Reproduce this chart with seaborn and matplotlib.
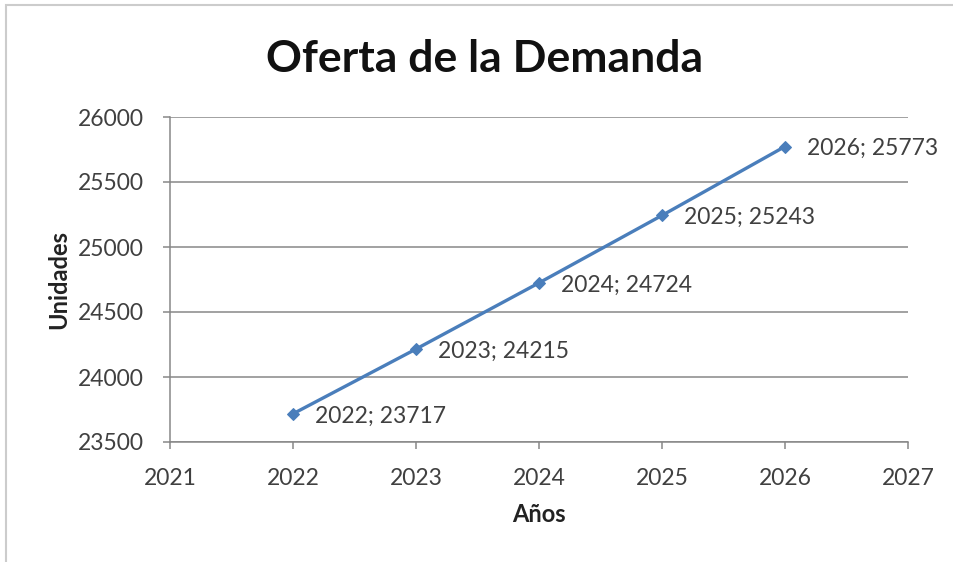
import matplotlib
matplotlib.use("Agg")
import matplotlib.pyplot as plt
import seaborn as sns
import pandas as pd
from matplotlib.patches import Rectangle

years = [2022, 2023, 2024, 2025, 2026]
units = [23717, 24215, 24724, 25243, 25773]
x_ticks = [2021, 2022, 2023, 2024, 2025, 2026, 2027]
y_ticks = [23500, 24000, 24500, 25000, 25500, 26000]

title = "Oferta de la Demanda"
x_label = "Años"
y_label = "Unidades"

sns.set_theme(style="white")
plt.rcParams["font.family"] = ["Lato", "DejaVu Sans"]

line_color = "#4a7ebb"
text_color = "#404040"
axis_color = "#878787"

df = pd.DataFrame({"year": years, "units": units})

fig = plt.figure(figsize=(9.54, 5.62), dpi=100)
fig.patch.set_facecolor("white")

# chart frame
fig.patches.append(Rectangle((6 / 954, -0.1), 1.2, 1.1 - 5 / 562,
                             transform=fig.transFigure, fill=False,
                             edgecolor="#cccccc", linewidth=1.5))

ax = fig.add_axes([170 / 954, 1 - 442 / 562, (908 - 170) / 954, (442 - 117) / 562])

sns.lineplot(data=df, x="year", y="units", ax=ax, color=line_color,
             linewidth=2.4, marker="D", markersize=6.5,
             markeredgecolor=line_color, markerfacecolor=line_color)

for x, y in zip(years, units):
    ax.annotate(f"{x}; {y}", (x, y), xytext=(16, -1.5), textcoords="offset points",
                ha="left", va="center", fontsize=16.5, color=text_color)

ax.set_xlim(2021, 2027)
ax.set_ylim(23500, 26000)
ax.set_xticks(x_ticks)
ax.set_yticks(y_ticks)
ax.set_xticklabels([str(v) for v in x_ticks])
ax.set_yticklabels([str(v) for v in y_ticks])

ax.grid(axis="y", color=axis_color, linewidth=1.1)
ax.grid(axis="x", visible=False)
ax.set_axisbelow(True)

for side in ["top", "right"]:
    ax.spines[side].set_visible(False)
for side in ["left", "bottom"]:
    ax.spines[side].set_color(axis_color)
    ax.spines[side].set_linewidth(1.1)

ax.tick_params(axis="both", direction="out", length=5, width=1.1,
               color=axis_color, labelcolor=text_color, labelsize=16.5)
ax.tick_params(axis="x", pad=14, bottom=True)
ax.tick_params(axis="y", pad=14, left=True)

ax.set_xlabel(x_label, fontsize=17, fontweight="bold", color="#222222", labelpad=10)
ax.set_ylabel(y_label, fontsize=17, fontweight="bold", color="#222222", labelpad=5)

fig.text(485 / 954, 1 - 59 / 562, title, ha="center", va="center",
         fontsize=32, fontweight="bold", color="#111111")

fig.savefig("out.png", dpi=100, facecolor="white")
